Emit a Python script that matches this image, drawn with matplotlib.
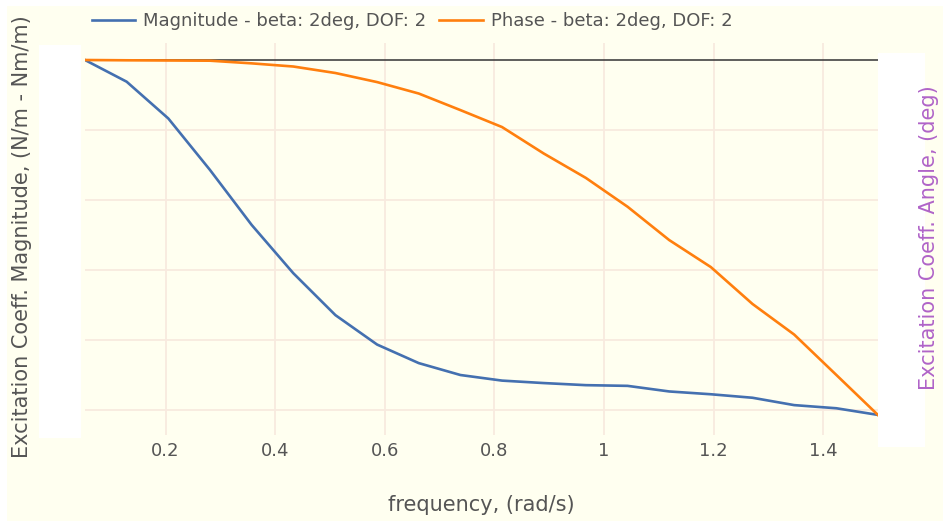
import matplotlib
matplotlib.use("Agg")
import matplotlib.pyplot as plt
from matplotlib.patches import Rectangle

# ---------- data ----------
freq = [0.053, 0.129, 0.205, 0.281, 0.357, 0.433, 0.510, 0.586, 0.662, 0.738,
        0.814, 0.890, 0.967, 1.043, 1.119, 1.195, 1.271, 1.347, 1.424, 1.500]
magnitude = [1.200, 1.138, 1.033, 0.886, 0.729, 0.591, 0.471, 0.387, 0.334, 0.300,
             0.284, 0.277, 0.271, 0.269, 0.253, 0.245, 0.235, 0.214, 0.205, 0.186]
phase = [0.0, -0.15, -0.25, -0.35, -1.7, -3.3, -6.6, -11.2, -17.0, -25.4,
         -34.0, -47.4, -59.8, -74.4, -91.3, -105.0, -123.7, -139.2, -159.7, -180.0]
xticks = [0.2, 0.4, 0.6, 0.8, 1.0, 1.2, 1.4]
xtick_labels = ["0.2", "0.4", "0.6", "0.8", "1", "1.2", "1.4"]
mag_grid = [0.2, 0.4, 0.6, 0.8, 1.0]

mag_label = "Magnitude - beta: 2deg, DOF: 2"
phase_label = "Phase - beta: 2deg, DOF: 2"

# ---------- style ----------
W, H = 943, 521
BG = "#fffff0"
GRID = "#f8eadf"
TXT = "#555555"
BLUE = "#4470b0"
ORANGE = "#ff7f0e"
PURPLE = "#b064c8"

fig = plt.figure(figsize=(W / 100, H / 100), dpi=100, facecolor="white")
fig.patches.append(Rectangle((7 / W, 0), 1, (H - 6) / H, transform=fig.transFigure,
                             facecolor=BG, edgecolor="none", zorder=-10))

# plot area in pixels: x 85..878, y 43..435 (from top)
px = lambda x: x / W
py = lambda y: 1 - y / H
ax = fig.add_axes([px(85), py(435), px(878 - 85), (435 - 43) / H])
ax.set_facecolor(BG)
for s in ax.spines.values():
    s.set_visible(False)

ax.set_xlim(freq[0], freq[-1])
ax.set_ylim(0.1286, 1.2486)
ax.set_xticks(xticks)
ax.set_xticklabels(xtick_labels)
ax.set_yticks(mag_grid)
ax.tick_params(axis="x", length=0, pad=5, labelsize=13, labelcolor=TXT)
ax.tick_params(axis="y", length=0, labelleft=False)
ax.grid(True, color=GRID, lw=1.3, zorder=0)
ax.set_axisbelow(True)

ax2 = ax.twinx()
for s in ax2.spines.values():
    s.set_visible(False)
ax2.set_ylim(-190.14, 8.62)
ax2.set_yticks([])
ax2.axhline(0, color="#333333", lw=1.1, zorder=1)

l1, = ax.plot(freq, magnitude, color=BLUE, lw=1.9, zorder=3, label=mag_label)
l2, = ax2.plot(freq, phase, color=ORANGE, lw=1.9, zorder=3, label=phase_label)
ax2.set_zorder(ax.get_zorder() + 1)
ax2.patch.set_visible(False)

# blank tick-label panels beside the plot
fig.patches.append(Rectangle((px(39), py(438)), px(81 - 39), (438 - 45) / H,
                             transform=fig.transFigure, facecolor="white",
                             edgecolor="none", zorder=-5))
fig.patches.append(Rectangle((px(878), py(447)), px(925 - 878), (447 - 53) / H,
                             transform=fig.transFigure, facecolor="white",
                             edgecolor="none", zorder=-5))

# axis titles
fig.text(px(481), py(505), "frequency, (rad/s)", ha="center", va="center",
         fontsize=15, color=TXT)
fig.text(px(22), py(237), "Excitation Coeff. Magnitude, (N/m - Nm/m)", rotation=90,
         ha="center", va="center", fontsize=15, color=TXT)
fig.text(px(929), py(238), "Excitation Coeff. Angle, (deg)", rotation=90,
         ha="center", va="center", fontsize=15, color=PURPLE)

fig.legend(handles=[l1, l2], loc="center left", bbox_to_anchor=(px(92), py(21)),
           ncol=2, frameon=False, fontsize=13, labelcolor=TXT,
           handlelength=2.4, handletextpad=0.45, columnspacing=0.7,
           borderaxespad=0, borderpad=0)

fig.savefig("out.png", dpi=100, facecolor=fig.get_facecolor())
